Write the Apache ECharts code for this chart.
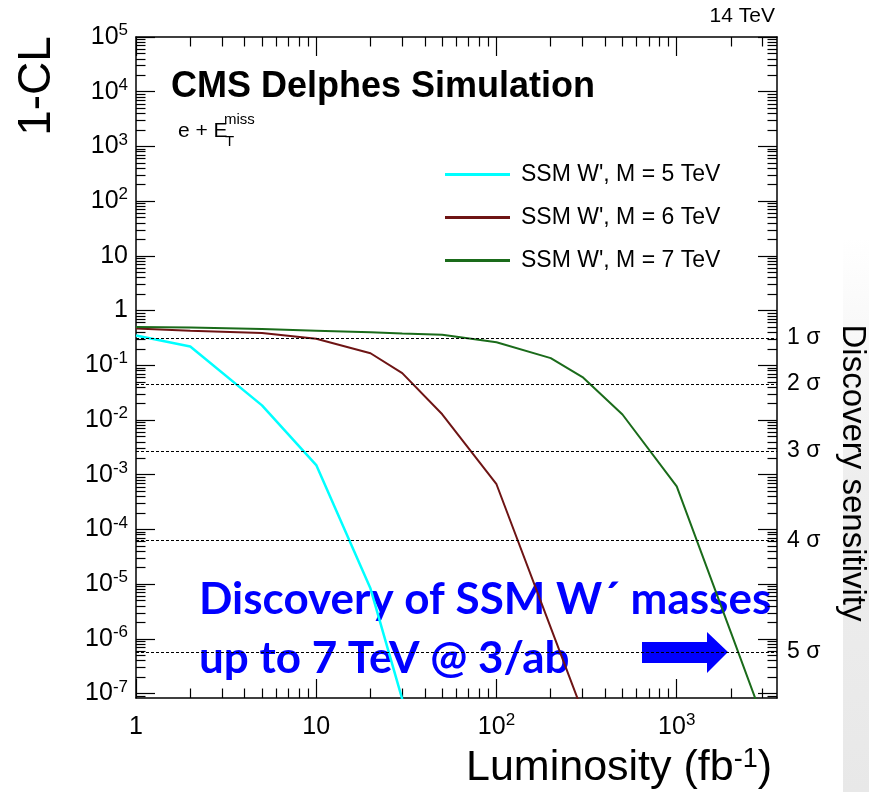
<!DOCTYPE html>
<html>
<head>
<meta charset="utf-8">
<script src="https://cdn.jsdelivr.net/npm/echarts@6/dist/echarts.min.js"></script>
<style>
  html, body { margin: 0; padding: 0; background: #fff; }
  #main { width: 869px; height: 792px; }
</style>
</head>
<body>
<div id="main"></div>
<script>
// luminosity points (fb^-1) and 1-CL values
const lumi5 = [1, 2, 5, 10, 20, 30];
const cl5 = [0.35, 0.22, 0.0185, 1.5e-3, 8.3e-6, 7.9e-8];
const lumi6 = [1, 2, 5, 10, 20, 30, 50, 100, 200, 300];
const cl6 = [0.47, 0.43, 0.39, 0.305, 0.166, 0.072, 0.0127, 6.7e-4, 1.6e-6, 4.7e-8];
const lumi7 = [1, 2, 5, 10, 20, 30, 50, 100, 200, 300, 500, 1000, 2000, 3000];
const cl7 = [0.50, 0.49, 0.46, 0.43, 0.40, 0.38, 0.36, 0.264, 0.135, 0.061, 0.0126, 6.1e-4, 1.3e-6, 3.5e-8];

const seriesNames = ["SSM W', M = 5 TeV", "SSM W', M = 6 TeV", "SSM W', M = 7 TeV"];

// discovery thresholds (two sided p-values)
const sigmaValues = [0.3173, 0.0455, 0.0027, 6.33e-5, 5.73e-7];
const sigmaLabels = ['1 σ', '2 σ', '3 σ', '4 σ', '5 σ'];

// axis ticks
const xMajor = [1, 10, 100, 1000];
const yMajor = [1e-7, 1e-6, 1e-5, 1e-4, 1e-3, 1e-2, 1e-1, 1, 10, 1e2, 1e3, 1e4, 1e5];
const minorMult = [2, 3, 4, 5, 6, 7, 8, 9];
const xMinor = [];
for (const d of [1, 10, 100, 1000]) for (const m of minorMult) xMinor.push(m * d);
const yMinor = [];
for (let e = -8; e <= 4; e++) for (const m of minorMult) yMinor.push(+(m * Math.pow(10, e)).toPrecision(3));

const FONT = '"Liberation Sans", Arial, sans-serif';
const BLUE_FONT = 'bold 44px Lato, sans-serif';

function pairs(xs, ys) {
    return xs.map((x, i) => [x, ys[i]]);
}

function powLabel(v) {
    const e = Math.round(Math.log10(v));
    if (e === 0) return '{b|1}';
    if (e === 1) return '{b|10}';
    return '{b|10}{s|' + e + '}';
}

const labelRich = {
    b: { fontFamily: FONT, fontSize: 25, color: '#000', lineHeight: 30 },
    s: { fontFamily: FONT, fontSize: 17, color: '#000', lineHeight: 17, verticalAlign: 'top' }
};

function makeAxes(dim, min, max, major, minor, pos1, pos2, majorLen, minorLen) {
    const base = {
        type: 'log', logBase: 10, min: min, max: max,
        splitLine: { show: false }, minorTick: { show: false },
        axisPointer: { show: false }
    };
    const line = { show: true, lineStyle: { color: '#000', width: 1.5 } };
    const tickStyle = { color: '#000', width: 1.2 };
    return [
        Object.assign({}, base, {
            position: pos1,
            axisLine: line,
            axisTick: { show: true, inside: true, length: majorLen, customValues: major, lineStyle: tickStyle },
            axisLabel: {
                show: true, customValues: major, formatter: powLabel, rich: labelRich,
                margin: dim === 'x' ? 14 : 8
            }
        }),
        Object.assign({}, base, {
            position: pos1,
            axisLine: { show: false },
            axisTick: { show: true, inside: true, length: minorLen, customValues: minor, lineStyle: tickStyle },
            axisLabel: { show: false }
        }),
        Object.assign({}, base, {
            position: pos2,
            axisLine: line,
            axisTick: { show: true, inside: true, length: majorLen, customValues: major, lineStyle: tickStyle },
            axisLabel: { show: false }
        }),
        Object.assign({}, base, {
            position: pos2,
            axisLine: { show: false },
            axisTick: { show: true, inside: true, length: minorLen, customValues: minor, lineStyle: tickStyle },
            axisLabel: { show: false }
        })
    ];
}

const chart = echarts.init(document.getElementById('main'));

chart.setOption({
    animation: false,
    backgroundColor: '#fff',
    grid: { left: 136, right: 92, top: 37, bottom: 94 },
    xAxis: makeAxes('x', 1, 3600, xMajor, xMinor, 'bottom', 'top', 19, 9.5),
    yAxis: makeAxes('y', 8.3e-8, 1e5, yMajor, yMinor, 'left', 'right', 19, 9.5),
    legend: {
        orient: 'vertical',
        left: 445,
        top: 163,
        padding: 0,
        icon: 'rect',
        itemWidth: 65,
        itemHeight: 3,
        itemGap: 20,
        data: seriesNames,
        textStyle: { fontFamily: FONT, fontSize: 23, color: '#000', padding: [0, 0, 0, 6] }
    },
    graphic: [
        {
            type: 'rect', z: -10, silent: true,
            shape: { x: 843, y: 0, width: 26, height: 792 },
            style: {
                fill: new echarts.graphic.LinearGradient(0, 0, 0, 1, [
                    { offset: 0, color: 'rgba(234,234,234,0)' },
                    { offset: 0.3, color: 'rgba(234,234,234,0)' },
                    { offset: 0.6, color: 'rgba(234,234,234,0.8)' },
                    { offset: 1, color: 'rgba(232,232,232,1)' }
                ])
            }
        },
        {
            type: 'text', x: 37, y: 86, rotation: Math.PI / 2,
            style: { text: '1-CL', font: '46px ' + FONT, fill: '#000', align: 'center', verticalAlign: 'middle' }
        },
        {
            type: 'text', x: 772, y: 768,
            style: {
                text: 'Luminosity (fb{s|-1})', font: '43px ' + FONT, fill: '#000',
                align: 'right', verticalAlign: 'middle',
                rich: { s: { font: '27px ' + FONT, fill: '#000', verticalAlign: 'top', lineHeight: 22 } }
            }
        },
        {
            type: 'text', x: 775, y: 16,
            style: { text: '14 TeV', font: '21px ' + FONT, fill: '#000', align: 'right', verticalAlign: 'middle' }
        },
        {
            type: 'text', x: 171, y: 87,
            style: { text: 'CMS Delphes Simulation', font: 'bold 36px ' + FONT, fill: '#000', align: 'left', verticalAlign: 'middle' }
        },
        {
            type: 'text', x: 178, y: 131,
            style: { text: 'e + E', font: '21px ' + FONT, fill: '#000', align: 'left', verticalAlign: 'middle' }
        },
        {
            type: 'text', x: 224, y: 120,
            style: { text: 'miss', font: '15px ' + FONT, fill: '#000', align: 'left', verticalAlign: 'middle' }
        },
        {
            type: 'text', x: 225, y: 142,
            style: { text: 'T', font: '15px ' + FONT, fill: '#000', align: 'left', verticalAlign: 'middle' }
        },
        {
            type: 'text', x: 852, y: 473, rotation: -Math.PI / 2,
            style: { text: 'Discovery sensitivity', font: '33px ' + FONT, fill: '#000', align: 'center', verticalAlign: 'middle' }
        },
        {
            type: 'text', x: 199, y: 600,
            style: { text: 'Discovery of SSM W\u00b4 masses', font: BLUE_FONT, fill: '#0000ff', align: 'left', verticalAlign: 'middle' }
        },
        {
            type: 'text', x: 199, y: 659,
            style: { text: 'up to 7 TeV @ 3/ab', font: BLUE_FONT, fill: '#0000ff', align: 'left', verticalAlign: 'middle' }
        },
        {
            type: 'polygon',
            shape: { points: [[642, 642], [707, 642], [707, 632], [728, 652], [707, 673], [707, 663], [642, 663]] },
            style: { fill: '#0000ff' }
        }
    ],
    series: [
        {
            name: seriesNames[0], type: 'line', showSymbol: false, symbol: 'none', clip: true,
            lineStyle: { color: '#00ffff', width: 2.5 }, itemStyle: { color: '#00ffff' },
            data: pairs(lumi5, cl5)
        },
        {
            name: seriesNames[1], type: 'line', showSymbol: false, symbol: 'none', clip: true,
            lineStyle: { color: '#6e1414', width: 2 }, itemStyle: { color: '#6e1414' },
            data: pairs(lumi6, cl6)
        },
        {
            name: seriesNames[2], type: 'line', showSymbol: false, symbol: 'none', clip: true,
            lineStyle: { color: '#1a6b1a', width: 2 }, itemStyle: { color: '#1a6b1a' },
            data: pairs(lumi7, cl7),
            markLine: {
                silent: true,
                symbol: 'none',
                precision: 20,
                lineStyle: { color: '#000', width: 1, type: [3, 2] },
                label: {
                    show: true, position: 'end', distance: 10,
                    fontFamily: FONT, fontSize: 23, color: '#000',
                    formatter: p => sigmaLabels[p.dataIndex]
                },
                data: sigmaValues.map(v => ({ yAxis: v }))
            }
        }
    ]
});
</script>
</body>
</html>
